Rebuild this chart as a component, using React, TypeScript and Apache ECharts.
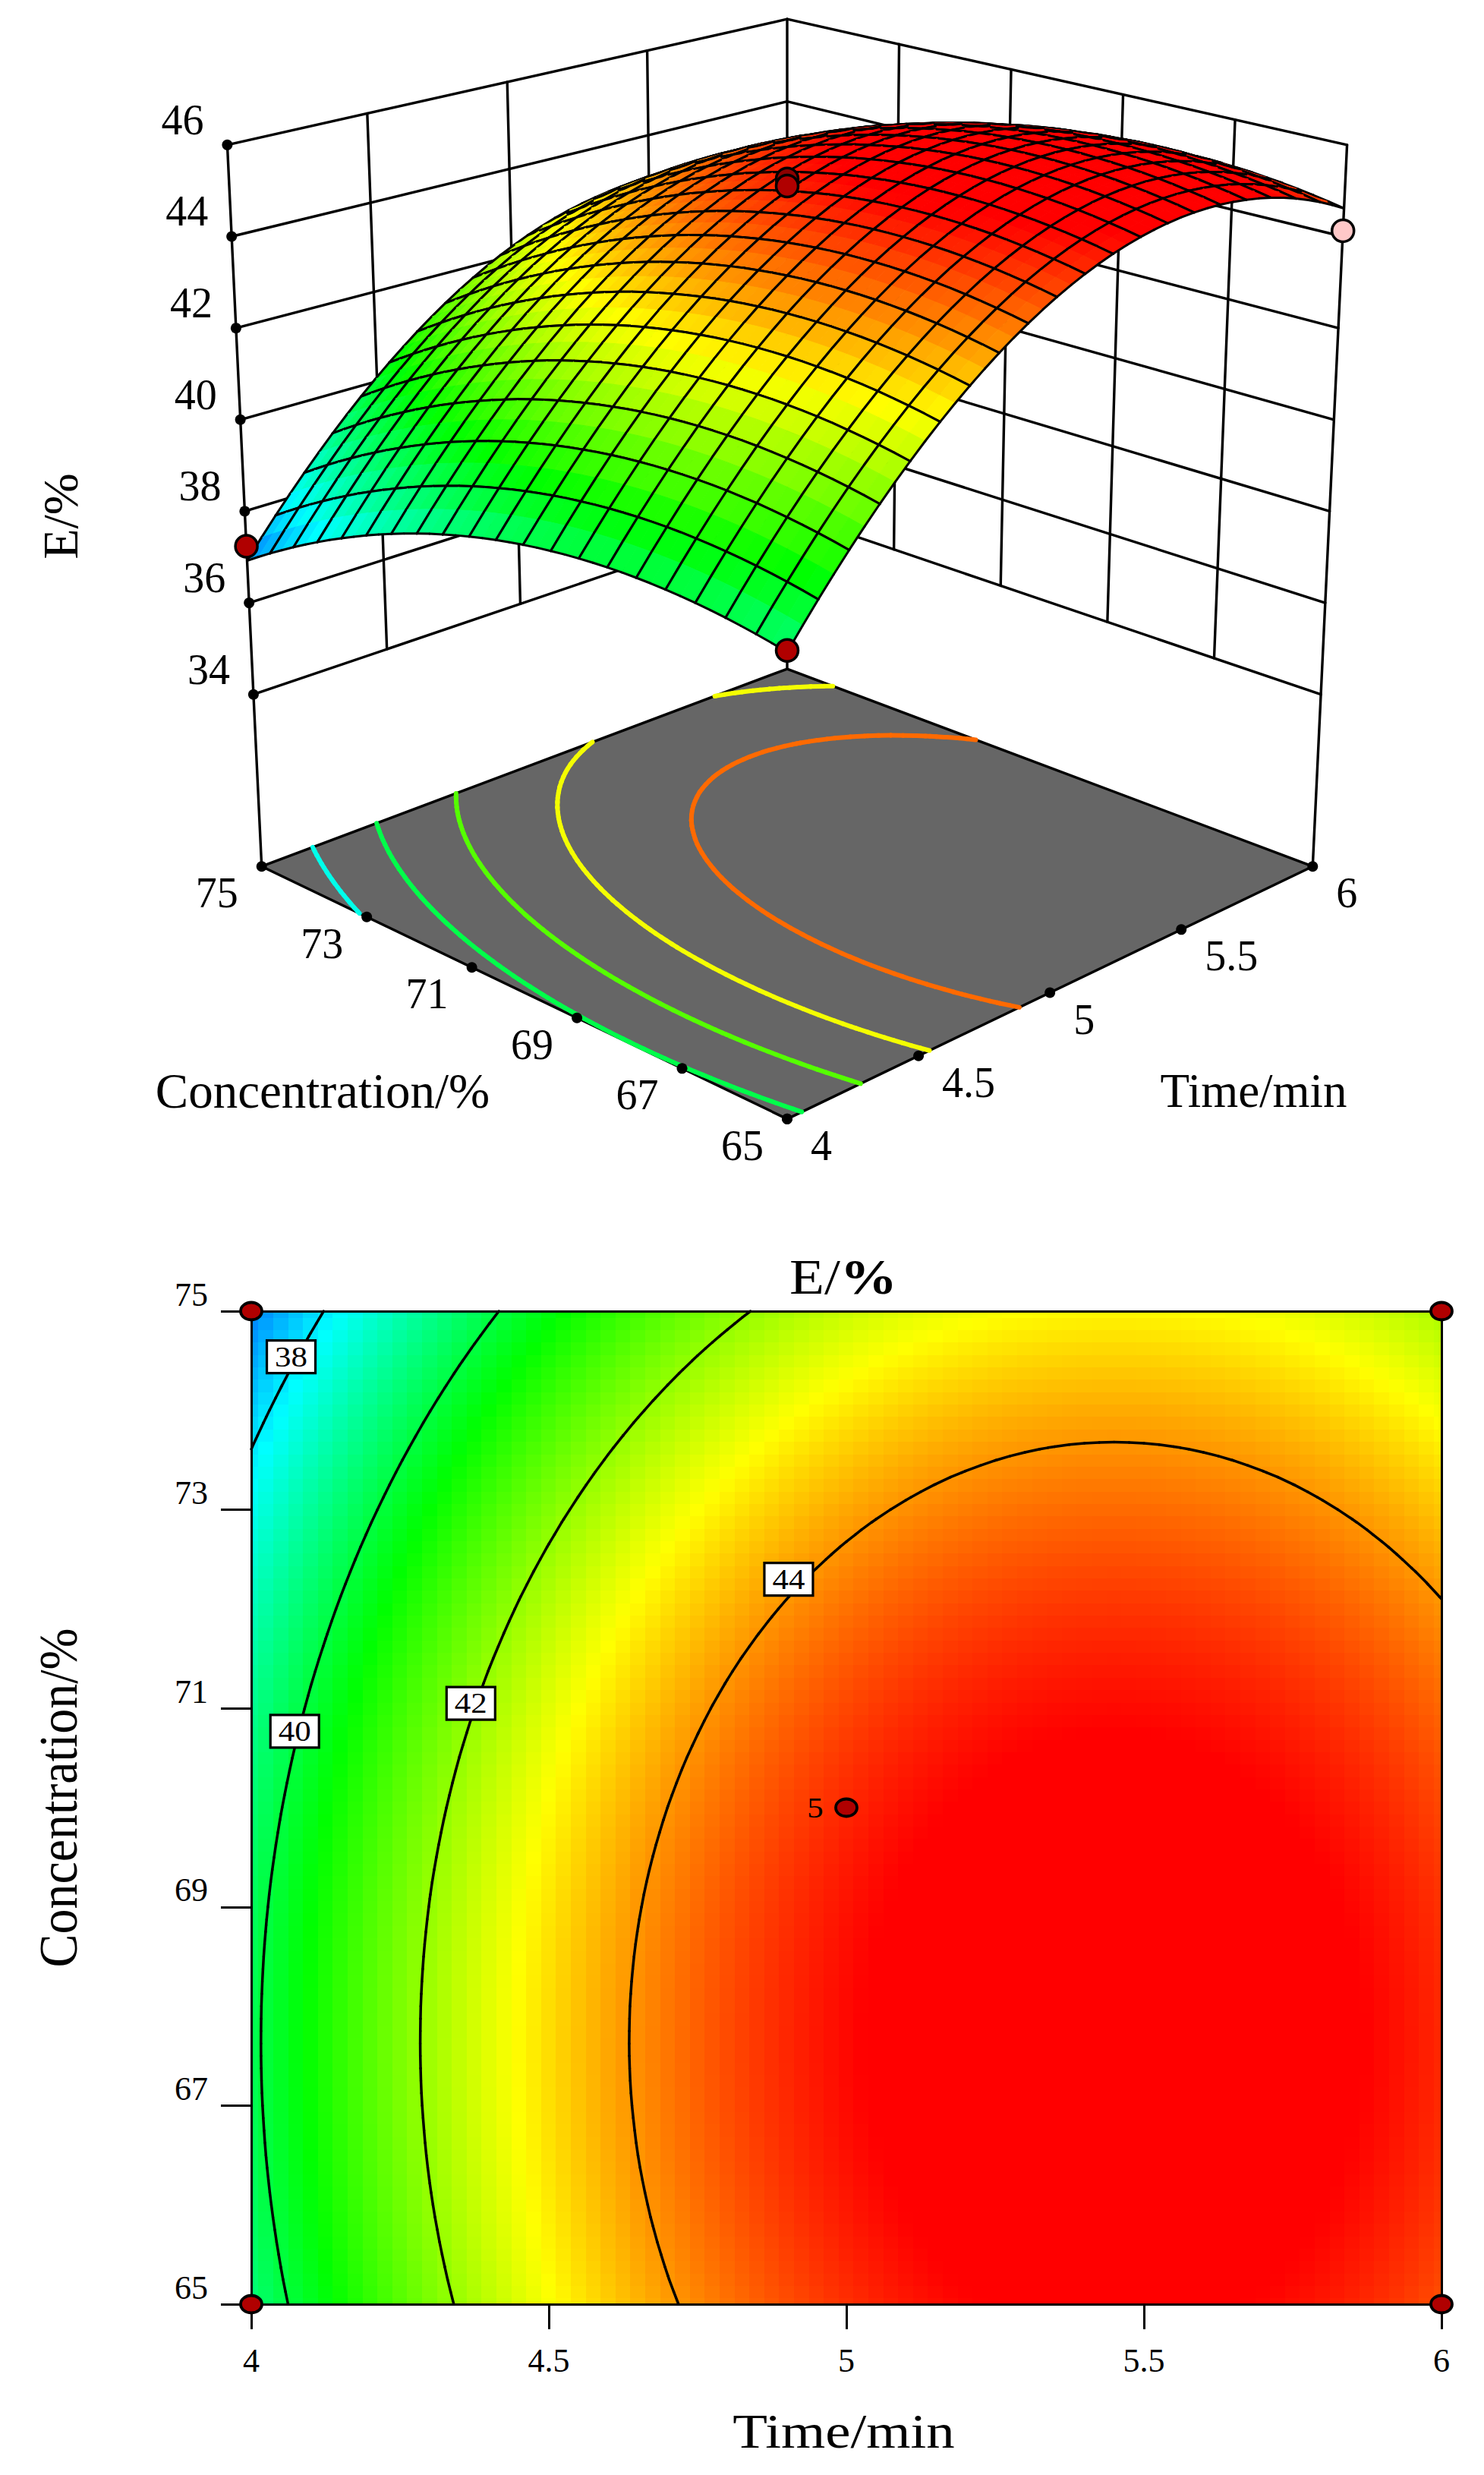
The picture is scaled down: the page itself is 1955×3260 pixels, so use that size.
import React, { useEffect, useRef } from "react";
import * as echarts from "echarts";

// Response values: contour crossings of the lower panel.
// E/% along the time axis (4 to 6 min, one value per 0.025 min) at the highest concentration ridge.
const timeRidgeE = [
  39.865, 40.072, 40.275, 40.474, 40.67, 40.862, 41.051, 41.236, 41.418, 41.595, 41.77, 41.94, 42.108, 42.271,
  42.431, 42.587, 42.74, 42.889, 43.035, 43.177, 43.315, 43.45, 43.581, 43.709, 43.833, 43.953, 44.07, 44.183,
  44.293, 44.399, 44.501, 44.6, 44.695, 44.787, 44.875, 44.959, 45.04, 45.118, 45.191, 45.261, 45.328, 45.391,
  45.45, 45.506, 45.558, 45.606, 45.651, 45.693, 45.73, 45.764, 45.795, 45.822, 45.845, 45.865, 45.881, 45.894,
  45.903, 45.908, 45.91, 45.908, 45.903, 45.894, 45.881, 45.865, 45.845, 45.822, 45.795, 45.764, 45.73, 45.693,
  45.651, 45.606, 45.558, 45.506, 45.45, 45.391, 45.328, 45.261, 45.191, 45.118, 45.04,
];
// Loss of E/% against that ridge along the concentration axis (65 to 75 %, one value per 0.125 %).
const concLoss = [
  0.369, 0.335, 0.302, 0.272, 0.243, 0.215, 0.19, 0.165, 0.143, 0.122, 0.103, 0.085, 0.069, 0.055, 0.043, 0.032,
  0.022, 0.014, 0.008, 0.004, 0.001, 0, 0.001, 0.003, 0.006, 0.012, 0.019, 0.028, 0.038, 0.05, 0.064, 0.079,
  0.096, 0.114, 0.134, 0.156, 0.18, 0.205, 0.232, 0.26, 0.29, 0.322, 0.355, 0.39, 0.426, 0.465, 0.505, 0.546,
  0.589, 0.634, 0.68, 0.728, 0.778, 0.83, 0.883, 0.937, 0.993, 1.051, 1.111, 1.172, 1.235, 1.299, 1.366, 1.433,
  1.503, 1.574, 1.646, 1.721, 1.797, 1.874, 1.954, 2.034, 2.117, 2.201, 2.287, 2.374, 2.463, 2.554, 2.647, 2.741,
  2.836,
];
const timeTicks = [4, 4.5, 5, 5.5, 6];
const concTicks = [65, 67, 69, 71, 73, 75];
const eTicks = [34, 36, 38, 40, 42, 44, 46];
const wallTimeLines = [4.5, 5, 5.5];
const wallConcLines = [67, 69, 71, 73];
const contourLevels = [38, 40, 42, 44];
const floorLevels = [38.4, 39.9, 41.4, 42.9, 44.4];
const contourLabels: [number, number, string][] = [
  [4.067, 74.54, "38"],
  [4.073, 70.77, "40"],
  [4.369, 71.05, "42"],
  [4.903, 72.3, "44"],
];
const designPoints2d: [number, number][] = [[4, 75], [6, 75], [4, 65], [6, 65], [5, 70]];
// [time, concentration, E, fill]
const designPoints3d: [number, number, number, string][] = [
  [5, 70, 45.29, "#8c0000"],
  [5, 70, 45.14, "#b00000"],
  [4, 75, 37.35, "#b00000"],
  [4, 65, 39.53, "#b00000"],
  [6, 65, 44.2, "#ffc8c8"],
];
const hiddenPoints3d: [number, number, number, string][] = [[6, 75, 42.3, "#b00000"]];
const rainbow = ["#0000ff", "#00ffff", "#00ff00", "#ffff00", "#ff0000"];

const FONT = "Liberation Serif";
const nT = timeRidgeE.length;
const nC = concLoss.length;
const timeAt = (i: number) => 4 + i * 0.025;
const concAt = (j: number) => 65 + j * 0.125;
const eAt = (i: number, j: number) => timeRidgeE[i] - concLoss[j];

// Perspective camera of the upper panel.
function project(T: number, C: number, z: number): [number, number] {
  const a = T - 5;
  const b = (C - 70) / 5;
  const h = z - 30;
  const s = (a + b) / 2;
  const w = 1 + 0.1223 * s - 0.003837 * h;
  return [1037 + (692.3 * ((a - b) / 2)) / w, (1141.2 - 152.4 * s - 60.13 * h) / w];
}
const lerp = (p: number[], q: number[], t: number): [number, number] => [p[0] + (q[0] - p[0]) * t, p[1] + (q[1] - p[1]) * t];

const FLOOR = 30;
const floorLeft = project(4, 75, FLOOR);
const floorFront = project(4, 65, FLOOR);
const floorRight = project(6, 65, FLOOR);
const floorBack = project(6, 75, FLOOR);

function contourSegments(level: number) {
  const segs: number[][] = [];
  for (let i = 0; i < nT - 1; i++) {
    for (let j = 0; j < nC - 1; j++) {
      const corners: [number, number][] = [[i, j], [i + 1, j], [i + 1, j + 1], [i, j + 1]];
      const pts: number[][] = [];
      for (let k = 0; k < 4; k++) {
        const [i0, j0] = corners[k];
        const [i1, j1] = corners[(k + 1) % 4];
        const v0 = eAt(i0, j0);
        const v1 = eAt(i1, j1);
        if (v0 < level !== v1 < level) {
          const t = (level - v0) / (v1 - v0);
          pts.push([timeAt(i0 + (i1 - i0) * t), concAt(j0 + (j1 - j0) * t)]);
        }
      }
      if (pts.length >= 2) segs.push([pts[0][0], pts[0][1], pts[1][0], pts[1][1]]);
      if (pts.length === 4) segs.push([pts[2][0], pts[2][1], pts[3][0], pts[3][1]]);
    }
  }
  return segs;
}

const line = (p: number[], q: number[], lineWidth: number, stroke = "#000") => ({
  type: "line",
  shape: { x1: p[0], y1: p[1], x2: q[0], y2: q[1] },
  style: { stroke, lineWidth, lineCap: "round" },
});
const dot = (p: number[]) => ({ type: "circle", shape: { cx: p[0], cy: p[1], r: 7 }, style: { fill: "#000" } });

function buildWalls() {
  const kids: any[] = [];
  const WL = 3.4;
  const topL = project(4, 75, 46), botL = project(4, 75, 34);
  const topB = project(6, 75, 46), botB = project(6, 75, 34);
  const topR = project(6, 65, 46), botR = project(6, 65, 34);
  eTicks.forEach((z) => {
    const t = (46 - z) / 12;
    const l = lerp(topL, botL, t), b = lerp(topB, botB, t), r = lerp(topR, botR, t);
    kids.push(line(l, b, WL), line(b, r, WL));
  });
  wallTimeLines.forEach((T) => {
    const t = (T - 4) / 2;
    kids.push(line(lerp(topL, topB, t), lerp(botL, botB, t), WL));
  });
  wallConcLines.forEach((C) => {
    const t = (75 - C) / 10;
    kids.push(line(lerp(topB, topR, t), lerp(botB, botR, t), WL));
  });
  kids.push(line(topL, floorLeft, WL), line(topB, floorBack, WL), line(topR, floorRight, WL));
  eTicks.forEach((z) => kids.push(dot(lerp(topL, botL, (46 - z) / 12))));
  return kids;
}

function buildFloor() {
  return [
    {
      type: "polygon",
      shape: { points: [floorLeft, floorFront, floorRight, floorBack] },
      style: { fill: "#666666", stroke: "#000", lineWidth: 3.4, lineJoin: "round" },
    },
  ];
}

const surfaceData: number[][] = [];
for (let i = nT - 3; i >= 0; i -= 2) {
  for (let j = nC - 3; j >= 0; j -= 2) {
    const v = (eAt(i, j) + eAt(i + 2, j) + eAt(i + 2, j + 2) + eAt(i, j + 2)) / 4;
    surfaceData.push([i, j, v]);
  }
}
const heatData: number[][] = [];
for (let i = 0; i < nT; i++) for (let j = 0; j < nC; j++) heatData.push([timeAt(i), concAt(j), eAt(i, j)]);

const floorContourData: number[][] = [];
floorLevels.forEach((lv) => contourSegments(lv).forEach((s) => floorContourData.push([s[0], s[1], lv, s[2], s[3]])));
const contour2dData: number[][] = [];
contourLevels.forEach((lv) => contourSegments(lv).forEach((s) => contour2dData.push(s)));

const txt = (text: string, x: number, y: number, size: number, o: any = {}) => ({
  type: "text",
  x,
  y,
  rotation: o.rot || 0,
  scaleX: o.sx || 1,
  scaleY: o.sy || 1,
  silent: true,
  z: 20,
  style: {
    text,
    fontSize: size,
    fontFamily: FONT,
    fill: "#000",
    textAlign: o.align || "center",
    align: o.align || "center",
    textVerticalAlign: "middle",
    verticalAlign: "middle",
    rich: o.rich,
  },
});

function buildGraphics() {
  const out: any[] = [];
  const topL = project(4, 75, 46), botL = project(4, 75, 34);
  eTicks.forEach((z) => {
    const p = lerp(topL, botL, (46 - z) / 12);
    out.push(txt(String(z), p[0] - 59, p[1] - 33, 56));
  });
  concTicks.forEach((C) => {
    const p = lerp(floorLeft, floorFront, (75 - C) / 10);
    out.push(txt(String(C), p[0] - 59, p[1] + 35, 56));
  });
  timeTicks.forEach((T) => {
    const p = lerp(floorFront, floorRight, (T - 4) / 2);
    out.push(txt(String(T), p[0] + 31, p[1] + 35, 56, { align: "left" }));
  });
  out.push(txt("Concentration/%", 425, 1437, 65));
  out.push(txt("Time/min", 1651.5, 1437, 63));
  out.push(txt("E/%", 79, 680, 66, { rot: Math.PI / 2 }));
  const rich = {
    a: { fontSize: 66, fontFamily: FONT, fill: "#000" },
    b: { fontSize: 66, fontFamily: FONT, fontWeight: "bold", fill: "#000" },
  };
  out.push(txt("{a|E/}{b|%}", 1111, 1682, 66, { sx: 1.14, rich }));
  out.push(txt("Time/min", 1111.5, 3202, 64, { sx: 1.17 }));
  out.push(txt("Concentration/%", 76, 2368, 66, { rot: Math.PI / 2, sy: 1.1 }));
  return out;
}

function floorTicks() {
  const kids: any[] = [];
  concTicks.forEach((C) => kids.push(dot(lerp(floorLeft, floorFront, (75 - C) / 10))));
  timeTicks.forEach((T) => kids.push(dot(lerp(floorFront, floorRight, (T - 4) / 2))));
  return kids;
}

const point3d = (p: [number, number, number, string]) => {
  const q = project(p[0], p[1], p[2]);
  return {
    type: "ellipse",
    shape: { cx: q[0], cy: q[1], rx: 14.5, ry: 14.5 },
    style: { fill: p[3], stroke: "#000", lineWidth: 3.5 },
  };
};

const axisCommon = {
  axisLine: { show: true, onZero: false, lineStyle: { color: "#000", width: 3 } },
  splitLine: { show: false },
  z: 4,
};

const labelText = (text: string, x: number, y: number) => ({
  type: "text",
  x,
  y,
  scaleX: 1.13,
  style: {
    text,
    fontSize: 38,
    fontFamily: FONT,
    fill: "#000",
    textAlign: "center",
    align: "center",
    textVerticalAlign: "middle",
    verticalAlign: "middle",
  },
});

function buildOption(): any {
  return {
    animation: false,
    backgroundColor: "#fff",
    grid: { left: 331, top: 1727, width: 1568, height: 1308, show: false },
    visualMap: {
      show: false,
      type: "continuous",
      min: 35.8,
      max: 45.4,
      dimension: 2,
      seriesIndex: [0, 6, 8],
      inRange: { color: rainbow },
      outOfRange: { color: ["#ff0000"] },
    },
    xAxis: [
      {
        type: "value",
        min: 4,
        max: 6,
        position: "bottom",
        ...axisCommon,
        axisTick: { show: true, length: 33, customValues: timeTicks, lineStyle: { color: "#000", width: 3 } },
        axisLabel: {
          customValues: timeTicks,
          margin: 52,
          fontSize: 44,
          fontFamily: FONT,
          color: "#000",
          verticalAlign: "top",
          formatter: (v: number) => String(v),
        },
      },
      { type: "value", min: 4, max: 6, position: "top", ...axisCommon, axisTick: { show: false }, axisLabel: { show: false } },
    ],
    yAxis: [
      {
        type: "value",
        min: 65,
        max: 75,
        position: "left",
        ...axisCommon,
        axisTick: { show: true, length: 40, customValues: concTicks, lineStyle: { color: "#000", width: 3 } },
        axisLabel: {
          customValues: concTicks,
          margin: 57,
          fontSize: 44,
          fontFamily: FONT,
          color: "#000",
          verticalAlign: "bottom",
          formatter: (v: number) => String(v),
        },
      },
      { type: "value", min: 65, max: 75, position: "right", ...axisCommon, axisTick: { show: false }, axisLabel: { show: false } },
    ],
    graphic: buildGraphics(),
    series: [
      {
        type: "custom",
        name: "heat",
        coordinateSystem: "cartesian2d",
        xAxisIndex: 0,
        yAxisIndex: 0,
        z: 1,
        silent: true,
        progressive: 0,
        encode: { x: 0, y: 1 },
        data: heatData,
        renderItem: (params: any, api: any) => {
          const T = api.value(0), C = api.value(1);
          const cs = params.coordSys;
          const p = api.coord([Math.max(4, T - 0.0125), Math.min(75, C + 0.0625)]);
          const q = api.coord([Math.min(6, T + 0.0125), Math.max(65, C - 0.0625)]);
          const x = Math.floor(p[0]), y = Math.floor(p[1]);
          return {
            type: "rect",
            shape: {
              x,
              y,
              width: Math.min(Math.ceil(q[0]), cs.x + cs.width) - x,
              height: Math.min(Math.ceil(q[1]), cs.y + cs.height) - y,
            },
            style: { fill: api.visual("color") },
          };
        },
      },
      {
        type: "custom",
        name: "contours",
        coordinateSystem: "cartesian2d",
        xAxisIndex: 0,
        yAxisIndex: 0,
        z: 2,
        silent: true,
        progressive: 0,
        encode: { x: 0, y: 1 },
        data: contour2dData,
        renderItem: (_p: any, api: any) =>
          line(api.coord([api.value(0), api.value(1)]), api.coord([api.value(2), api.value(3)]), 3.5),
      },
      {
        type: "custom",
        name: "contour labels",
        coordinateSystem: "cartesian2d",
        xAxisIndex: 0,
        yAxisIndex: 0,
        z: 3,
        silent: true,
        encode: { x: 0, y: 1 },
        data: contourLabels,
        renderItem: (_p: any, api: any) => {
          const c = api.coord([api.value(0), api.value(1)]);
          return {
            type: "group",
            children: [
              {
                type: "rect",
                shape: { x: c[0] - 32, y: c[1] - 21.5, width: 64, height: 43 },
                style: { fill: "#fff", stroke: "#000", lineWidth: 3.2 },
              },
              labelText(String(api.value(2)), c[0], c[1]),
            ],
          };
        },
      },
      {
        type: "custom",
        name: "design points",
        coordinateSystem: "cartesian2d",
        xAxisIndex: 0,
        yAxisIndex: 0,
        z: 6,
        silent: true,
        clip: false,
        encode: { x: 0, y: 1 },
        data: designPoints2d,
        renderItem: (_p: any, api: any) => {
          const T = api.value(0), C = api.value(1);
          const c = api.coord([T, C]);
          const kids: any[] = [
            {
              type: "ellipse",
              shape: { cx: c[0], cy: c[1], rx: 14, ry: 11.5 },
              style: { fill: "#b00000", stroke: "#000", lineWidth: 3.8 },
            },
          ];
          if (T === 5 && C === 70) kids.push(labelText("5", c[0] - 41, c[1]));
          return { type: "group", children: kids };
        },
      },
      {
        type: "custom",
        name: "walls",
        coordinateSystem: "none",
        z: 1,
        silent: true,
        data: [[0]],
        renderItem: () => ({ type: "group", children: buildWalls() }),
      },
      {
        type: "custom",
        name: "floor",
        coordinateSystem: "none",
        z: 2,
        silent: true,
        data: [[0]],
        renderItem: () => ({ type: "group", children: buildFloor() }),
      },
      {
        type: "custom",
        name: "floor contours",
        coordinateSystem: "none",
        z: 3,
        silent: true,
        progressive: 0,
        data: floorContourData,
        renderItem: (_p: any, api: any) =>
          line(
            project(api.value(0), api.value(1), FLOOR),
            project(api.value(3), api.value(4), FLOOR),
            6,
            api.visual("color"),
          ),
      },
      {
        type: "custom",
        name: "floor ticks and hidden point",
        coordinateSystem: "none",
        z: 3,
        silent: true,
        data: [[0]],
        renderItem: () => ({ type: "group", children: [...floorTicks(), ...hiddenPoints3d.map(point3d)] }),
      },
      {
        type: "custom",
        name: "surface",
        coordinateSystem: "none",
        z: 4,
        silent: true,
        progressive: 0,
        data: surfaceData,
        renderItem: (_p: any, api: any) => {
          const i = api.value(0), j = api.value(1);
          const T0 = timeAt(i), T1 = timeAt(i + 2), C0 = concAt(j), C1 = concAt(j + 2);
          const a = project(T0, C0, eAt(i, j));
          const b = project(T1, C0, eAt(i + 2, j));
          const c = project(T1, C1, eAt(i + 2, j + 2));
          const d = project(T0, C1, eAt(i, j + 2));
          const color = api.visual("color");
          const kids: any[] = [
            { type: "polygon", shape: { points: [a, b, c, d] }, style: { fill: color, stroke: color, lineWidth: 1 } },
          ];
          // Mesh lines fall on every second sub-cell: 0.1 min and 0.5 %.
          if (i % 4 === 0) kids.push(line(a, d, 3));
          if ((i + 2) % 4 === 0) kids.push(line(b, c, 3));
          if (j % 4 === 0) kids.push(line(a, b, 3));
          if ((j + 2) % 4 === 0) kids.push(line(d, c, 3));
          return { type: "group", children: kids };
        },
      },
      {
        type: "custom",
        name: "design points 3d",
        coordinateSystem: "none",
        z: 6,
        silent: true,
        data: [[0]],
        renderItem: () => ({ type: "group", children: designPoints3d.map(point3d) }),
      },
    ],
  };
}

export default function App() {
  const ref = useRef<HTMLDivElement>(null);
  useEffect(() => {
    const chart = echarts.init(ref.current!, undefined, { renderer: "svg" });
    chart.setOption(buildOption());
    return () => chart.dispose();
  }, []);
  return <div ref={ref} style={{ position: "absolute", left: 0, top: 0, width: 1955, height: 3260 }} />;
}
